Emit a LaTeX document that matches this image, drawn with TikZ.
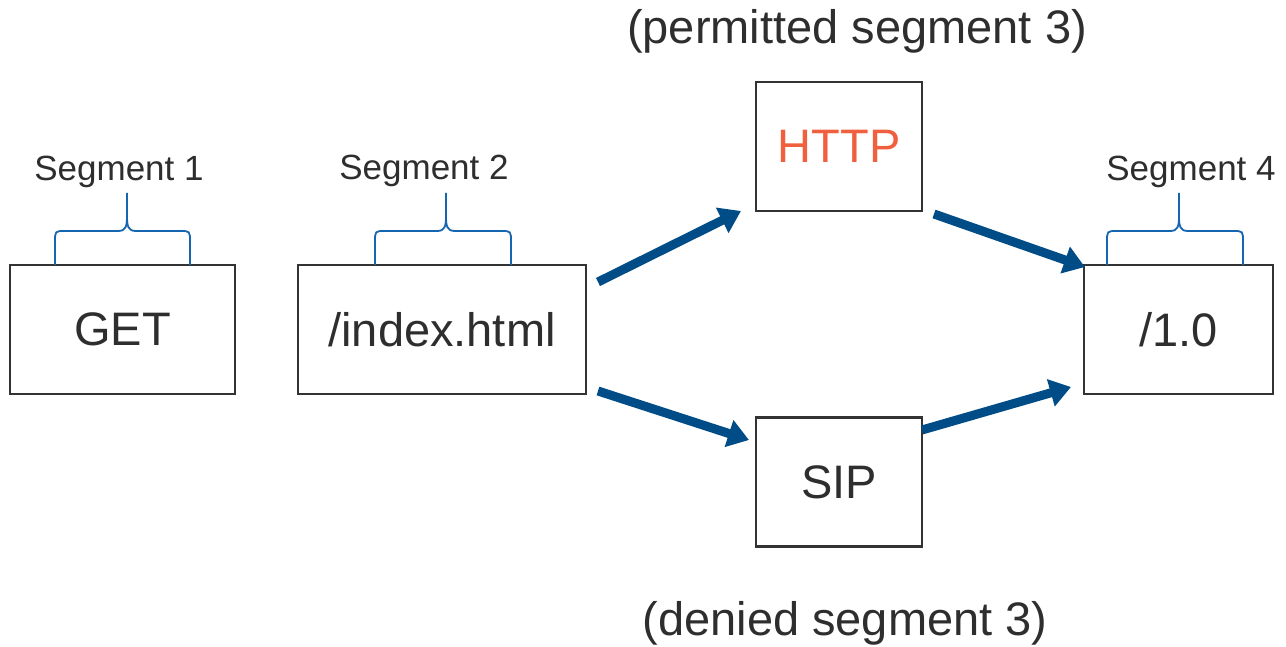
\documentclass[tikz,border=0pt]{standalone}
\usepackage{fontspec}
\setmainfont{Liberation Sans}
\usetikzlibrary{arrows.meta}
\definecolor{boxline}{HTML}{333333}
\definecolor{txt}{HTML}{2E2E2E}
\definecolor{arrowblue}{HTML}{004C87}
\definecolor{bracecol}{HTML}{1565B0}
\definecolor{httpred}{HTML}{F0603F}
\tikzset{
  segbox/.style={draw=boxline, line width=2.2pt, minimum width=#1, minimum height=129pt, inner sep=0pt, text=txt, font=\fontsize{47}{56}\selectfont},
  seglabel/.style={text=txt, font=\fontsize{35}{42}\selectfont, inner sep=0pt},
  biglabel/.style={text=txt, font=\fontsize{47}{56}\selectfont, inner sep=0pt},
  flowarrow/.style={draw=arrowblue, line width=9pt, -{Triangle[length=21pt,width=27pt]}},
  bracestyle/.style={draw=bracecol, line width=1.8pt}
}
\begin{document}
\begin{tikzpicture}[x=1pt,y=-1pt]
\useasboundingbox (0,0) rectangle (1286,647);
% boxes
\node[segbox=225pt] (get) at (122.5,329.5) {GET};
\node[segbox=288pt] (index) at (442,329.5) {/index.html};
\node[segbox=166pt, text=httpred] (http) at (839,146.5) {HTTP};
\node[segbox=166pt] (sip) at (839,482) {SIP};
\node[segbox=189pt] (ver) at (1178.5,329.5) {/1.0};
% labels
\node[biglabel] (perm) at (857,31) {(permitted segment 3)};
\node[biglabel] (deny) at (845,623) {(denied segment 3)};
\node[seglabel] (s1) at (119,172) {Segment 1};
\node[seglabel] (s2) at (424,171) {Segment 2};
\node[seglabel] (s4) at (1191,172) {Segment 4};
% braces
\foreach \xa/\xm/\xb in {55/127/190, 375/446/511, 1107/1179/1243}{
  \draw[bracestyle] (\xa,265) -- (\xa,242) .. controls (\xa,231) .. (\xa+10,231)
     -- (\xm-9,231) .. controls (\xm-1,231) and (\xm,226) .. (\xm,216) -- (\xm,193);
  \draw[bracestyle] (\xb,265) -- (\xb,242) .. controls (\xb,231) .. (\xb-10,231)
     -- (\xm+9,231) .. controls (\xm+1,231) and (\xm,226) .. (\xm,216);
}
% arrow end points
\coordinate (a1s) at (598,282);
\coordinate (a1e) at (741,211);
\coordinate (a2s) at (598,391);
\coordinate (a2e) at (749,440);
\coordinate (a3s) at (934,214);
\coordinate (a3e) at (1085,267);
\coordinate (a4s) at (922,430);
\coordinate (a4e) at (1071,387);
\draw[flowarrow] (a1s) -- (a1e);
\draw[flowarrow] (a2s) -- (a2e);
\draw[flowarrow] (a3s) -- (a3e);
\draw[flowarrow] (a4s) -- (a4e);
\end{tikzpicture}
\end{document}
